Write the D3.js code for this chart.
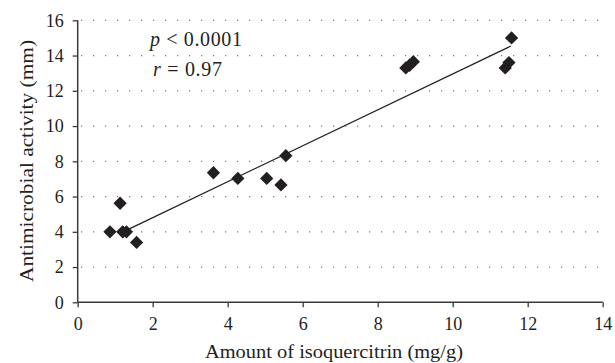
<!DOCTYPE html>
<html><head><meta charset="utf-8">
<script src="https://cdn.jsdelivr.net/npm/d3@7"></script>
<style>body{margin:0;background:#fff}svg{display:block}text{font-family:"Liberation Serif","DejaVu Serif",serif}</style>
</head><body>
<svg id="c" width="615" height="363"></svg>
<script>
const xValues = [0.86, 1.13, 1.2, 1.3, 1.57, 3.62, 4.27, 5.04, 5.42, 5.55, 8.75, 8.85, 8.95, 11.4, 11.5, 11.57];
const yValues = [4.0, 5.62, 4.0, 4.0, 3.4, 7.35, 7.03, 7.03, 6.66, 8.32, 13.3, 13.45, 13.65, 13.3, 13.6, 15.0];
const trendX = [1.35, 11.55];
const trendY = [4.14, 14.54];
const xTicks = [0, 2, 4, 6, 8, 10, 12, 14];
const yTicks = [0, 2, 4, 6, 8, 10, 12, 14, 16];
const gridTicks = [2, 4, 6, 8, 10, 12, 14, 16];

const svg = d3.select("#c");
const font = '"Liberation Serif", "DejaVu Serif", serif';
const ink = "#231f20";
const x = d3.scaleLinear().domain([0, 14]).range([77.7, 602.7]);
const y = d3.scaleLinear().domain([0, 16]).range([302.3, 20.3]);

// grid
svg.append("g").selectAll("line").data(gridTicks).join("line")
  .attr("x1", 81).attr("x2", 600)
  .attr("y1", d => y(d)).attr("y2", d => y(d))
  .attr("stroke", "#777").attr("stroke-width", 1.2)
  .attr("stroke-dasharray", "1.2,10.8");

// axes
const xa = svg.append("g").attr("transform", `translate(0,${y(0)})`)
  .call(d3.axisBottom(x).tickValues(xTicks).tickSize(5).tickSizeOuter(0).tickPadding(10));
const ya = svg.append("g").attr("transform", `translate(${x(0)},0)`)
  .call(d3.axisLeft(y).tickValues(yTicks).tickSize(5).tickSizeOuter(0).tickPadding(9));
[xa, ya].forEach(a => {
  a.attr("font-family", font).attr("font-size", 18);
  a.select(".domain").attr("stroke", "#3a3a3a").attr("stroke-width", 1.5);
  a.selectAll(".tick line").attr("stroke", "#3a3a3a").attr("stroke-width", 1.3);
  a.selectAll(".tick text").attr("fill", ink);
});
ya.select(".domain").attr("d", `M0,${y(16)}V${y(0)}`);
xa.select(".domain").attr("d", `M${x(0)},0H${x(14)}`);

// trend line
svg.append("line")
  .attr("x1", x(trendX[0])).attr("y1", y(trendY[0]))
  .attr("x2", x(trendX[1])).attr("y2", y(trendY[1]))
  .attr("stroke", ink).attr("stroke-width", 1.3);

// points
const pts = xValues.map((v, i) => ({ x: v, y: yValues[i] }));
const sym = d3.symbol().type(d3.symbolSquare).size(88);
svg.append("g").selectAll("path").data(pts).join("path")
  .attr("d", sym)
  .attr("transform", d => `translate(${x(d.x)},${y(d.y)}) rotate(45)`)
  .attr("fill", ink);

// annotations
const ann = svg.append("g").attr("font-family", font).attr("font-size", 20).attr("fill", ink);
const t1 = ann.append("text").attr("x", 150).attr("y", 46).attr("textLength", 92).attr("lengthAdjust", "spacing");
t1.append("tspan").attr("font-style", "italic").text("p");
t1.append("tspan").text(" < 0.0001");
const t2 = ann.append("text").attr("x", 153).attr("y", 76).attr("textLength", 69).attr("lengthAdjust", "spacing");
t2.append("tspan").attr("font-style", "italic").text("r");
t2.append("tspan").text(" = 0.97");

// axis titles
svg.append("text").attr("x", 205).attr("y", 358)
  .attr("font-family", font).attr("font-size", 19).attr("fill", ink)
  .attr("textLength", 258).attr("lengthAdjust", "spacingAndGlyphs")
  .text("Amount of isoquercitrin (mg/g)");
svg.append("text").attr("transform", "translate(33,282) rotate(-90)")
  .attr("font-family", font).attr("font-size", 19).attr("fill", ink)
  .attr("textLength", 242).attr("lengthAdjust", "spacingAndGlyphs")
  .text("Antimicrobial activity (mm)");
</script>
</body></html>
